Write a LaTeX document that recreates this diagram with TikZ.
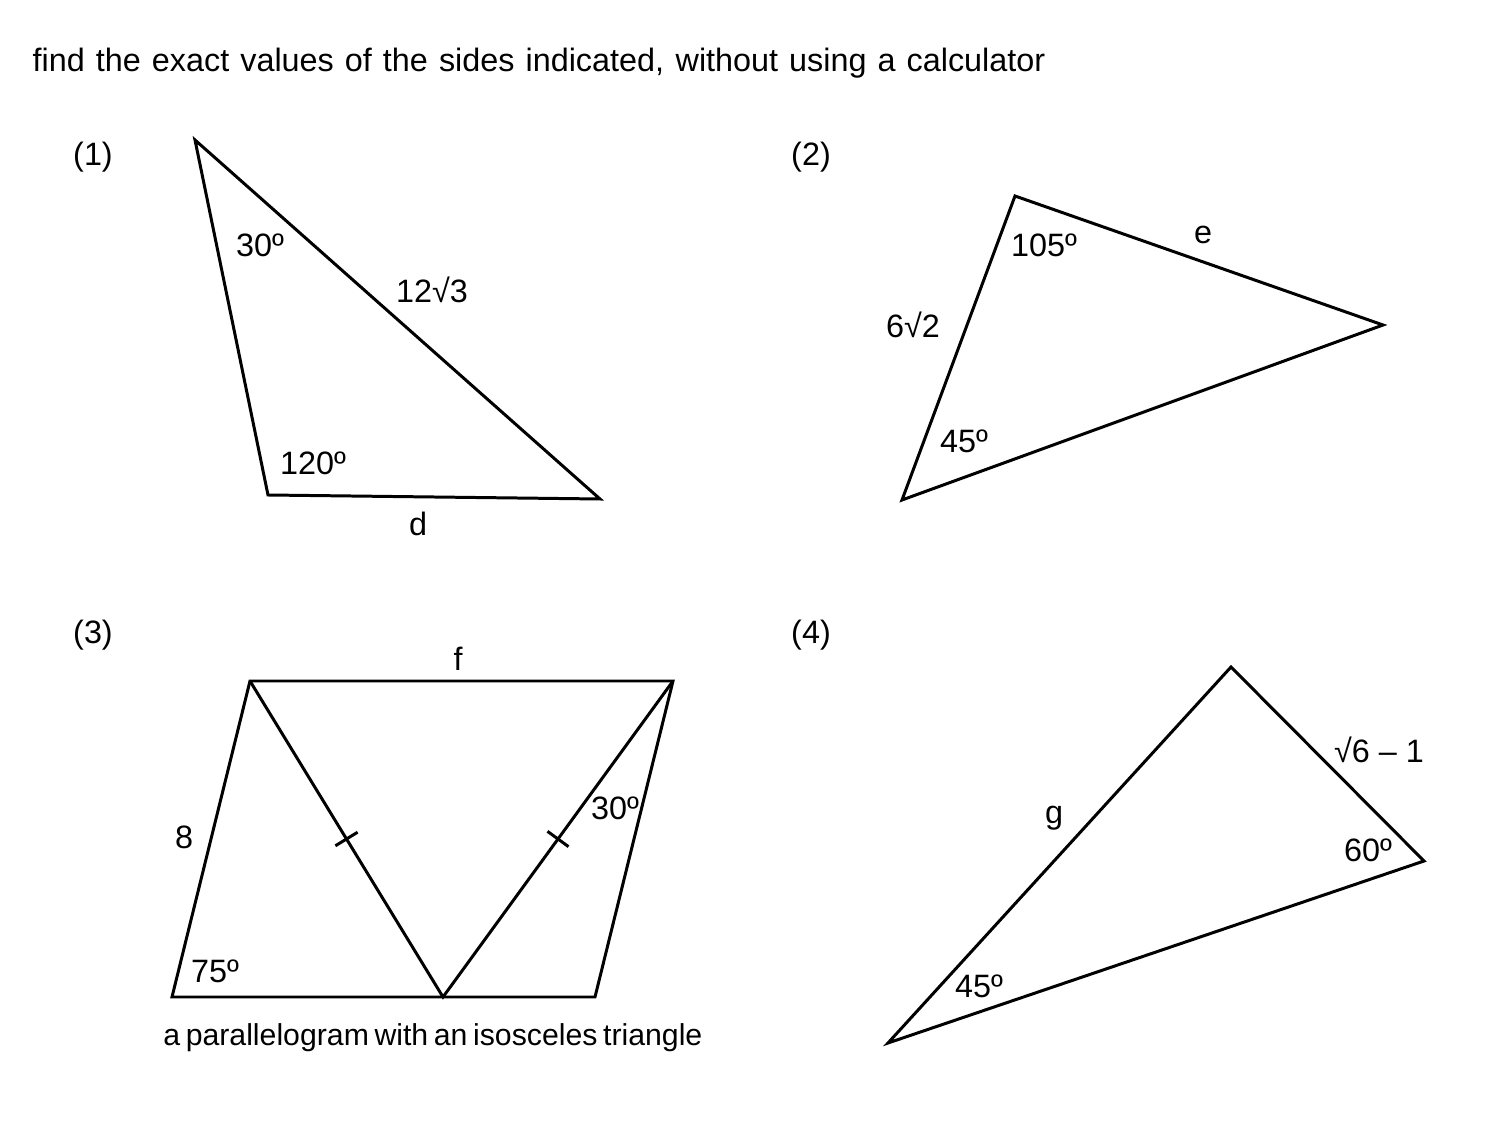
\documentclass[tikz,border=0pt]{standalone}
\usepackage{fontspec}
\setmainfont{Liberation Sans}
\usetikzlibrary{calc,positioning}

\tikzset{
  edge/.style={line width=0.85pt, line join=miter},
  lbl/.style={font=\fontsize{9.2}{11}\selectfont, inner sep=0pt},
  small lbl/.style={font=\fontsize{8.6}{10}\selectfont, inner sep=0pt},
}

\begin{document}
\begin{tikzpicture}[x=0.01cm, y=-0.01cm]
    % fix the page size
    \useasboundingbox (0,0) rectangle (1500,1125);
    % heading
    \node[lbl] (title) at (539,63) {\makebox[10.12cm][s]{find the exact values of the sides indicated, without using a calculator}};

    % (1) triangle with 30 and 120
    \node[lbl] (n1) at (93,157) {(1)};
    \coordinate (a1) at (195,140);
    \coordinate (b1) at (268,495);
    \coordinate (c1) at (600,499);
    \draw[edge] (a1) -- (b1) -- (c1) -- cycle;
    \node[lbl] (ang1a) at (260,245) {30º};
    \node[lbl] (ang1b) at (313,463) {120º};
    \node[lbl] (side1) at (432,290) {12√3};
    \node[lbl] (d) at (418,524) {d};

    % (2) triangle with 105 and 45
    \node[lbl] (n2) at (811,157) {(2)};
    \coordinate (a2) at (1015,196);
    \coordinate (b2) at (1383,325);
    \coordinate (c2) at (902,500);
    \draw[edge] (a2) -- (b2) -- (c2) -- cycle;
    \node[lbl] (ang2a) at (1044,245) {105º};
    \node[lbl] (ang2b) at (964,441) {45º};
    \node[lbl] (side2) at (913,325) {6√2};
    \node[lbl] (e) at (1203,235) {e};

    % (3) parallelogram with isosceles triangle
    \node[lbl] (n3) at (93,635) {(3)};
    \coordinate (tl3) at (250,681);
    \coordinate (tr3) at (673,681);
    \coordinate (br3) at (595,997);
    \coordinate (bl3) at (172,997);
    \coordinate (m3) at (443,997);
    \draw[edge] (tl3) -- (tr3) -- (br3) -- (bl3) -- cycle;
    \draw[edge] (tl3) -- (m3) -- (tr3);
    % equal side ticks
    \draw[edge] ($(tl3)!0.5!(m3)!0.13cm!90:(m3)$) -- ($(tl3)!0.5!(m3)!0.13cm!-90:(m3)$);
    \draw[edge] ($(tr3)!0.5!(m3)!0.13cm!90:(m3)$) -- ($(tr3)!0.5!(m3)!0.13cm!-90:(m3)$);
    \node[lbl] (f) at (458,659) {f};
    \node[lbl] (side3) at (184,837) {8};
    \node[lbl] (ang3a) at (615,808) {30º};
    \node[lbl] (ang3b) at (215,971) {75º};
    \node[small lbl] (cap3) at (429,1038) {\makebox[5.31cm][s]{a parallelogram with an isosceles triangle}};

    % (4) triangle with 60 and 45
    \node[lbl] (n4) at (811,635) {(4)};
    \coordinate (a4) at (1231,667);
    \coordinate (b4) at (1424,861);
    \coordinate (c4) at (888,1043);
    \draw[edge] (a4) -- (b4) -- (c4) -- cycle;
    \node[lbl] (side4) at (1379,750) {√6 – 1};
    \node[lbl] (g) at (1054,818) {g};
    \node[lbl] (ang4a) at (1368,850) {60º};
    \node[lbl] (ang4b) at (979,986) {45º};
\end{tikzpicture}
\end{document}
